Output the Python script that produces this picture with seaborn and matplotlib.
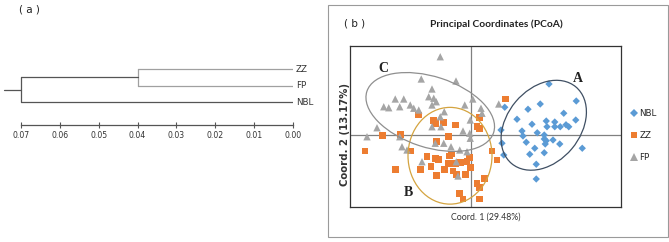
import numpy as np
import pandas as pd
import seaborn as sns
import matplotlib
matplotlib.use("Agg")
import matplotlib.pyplot as plt
from matplotlib.patches import Ellipse, Rectangle

# ---------------- data ----------------
# (a) UPGMA dendrogram
leaf_names = ["NBL", "FP", "ZZ"]          # bottom -> top
merge_zz_fp = 0.04
merge_root = 0.07
dist_ticks = [0.07, 0.06, 0.05, 0.04, 0.03, 0.02, 0.01, 0.00]

# (b) PCoA scores
nbl_x = [0.312, 0.277, 0.421, 0.228, 0.135, 0.371, 0.184, 0.244, 0.301, 0.304, 0.335, 0.335,
         0.357, 0.380, 0.391, 0.419, 0.120, 0.204, 0.208, 0.265, 0.293, 0.293, 0.301, 0.297,
         0.328, 0.221, 0.355, 0.255, 0.293, 0.235, 0.445, 0.131, 0.261, 0.124, 0.261]
nbl_y = [0.204, 0.124, 0.136, 0.103, 0.111, 0.087, 0.063, 0.043, 0.056, 0.033, 0.052, 0.033,
         0.033, 0.041, 0.033, 0.060, 0.020, 0.016, -0.004, 0.009, 0.000, -0.016, -0.023, -0.036,
         -0.020, -0.029, -0.036, -0.053, -0.071, -0.077, -0.053, -0.080, -0.176, -0.033, -0.117]

zz_x = [0.137, -0.209, -0.143, -0.109, -0.149, -0.063, 0.035, 0.024, 0.035, -0.283, -0.353,
        -0.089, -0.139, -0.240, -0.424, -0.176, -0.143, -0.129, -0.085, -0.160, -0.107, -0.089,
        -0.072, -0.059, -0.063, -0.043, -0.007, -0.003, -0.016, -0.303, -0.203, -0.139, -0.023,
        0.084, 0.104, 0.055, 0.024, 0.035, -0.045, -0.032, 0.035, -0.079]
zz_y = [0.144, 0.080, 0.047, 0.051, 0.057, 0.040, 0.069, 0.033, 0.027, 0.003, -0.003,
        -0.007, -0.027, -0.064, -0.064, -0.087, -0.093, -0.097, -0.084, -0.127, -0.137, -0.113,
        -0.144, -0.157, -0.113, -0.111, -0.089, -0.131, -0.107, -0.137, -0.137, -0.163, -0.157,
        -0.064, -0.100, -0.173, -0.193, -0.209, -0.233, -0.256, -0.256, -0.076]

fp_x = [-0.123, -0.199, -0.060, -0.156, -0.169, -0.149, -0.139, -0.156, 0.007, -0.025, 0.040,
        0.044, -0.107, -0.123, -0.003, 0.111, -0.349, -0.329, -0.303, -0.269, -0.285, -0.243,
        -0.229, -0.209, -0.376, -0.416, -0.285, -0.276, -0.256, -0.196, -0.156, -0.120, -0.032,
        -0.005, -0.003, -0.080, -0.045, -0.016, -0.059, -0.052, -0.143, -0.109]
fp_y = [0.313, 0.224, 0.216, 0.184, 0.153, 0.147, 0.133, 0.120, 0.144, 0.120, 0.107,
        0.087, 0.093, 0.073, 0.060, 0.124, 0.113, 0.109, 0.144, 0.144, 0.113, 0.120,
        0.107, 0.100, 0.029, -0.007, -0.007, -0.047, -0.060, -0.107, 0.033, 0.033, 0.016,
        0.007, -0.013, -0.047, -0.060, -0.067, -0.107, -0.164, -0.033, -0.033]

groups = ["NBL", "ZZ", "FP"]
# group ellipses: label, centre x, centre y, width, height, angle
ell_labels = ["A", "B", "C"]
ell_cx = [0.291, -0.084, -0.163]
ell_cy = [0.039, -0.083, 0.092]
ell_w = [0.40, 0.336, 0.533]
ell_h = [0.293, 0.387, 0.283]
ell_ang = [50, 0, -18]
lab_x = [0.428, -0.252, -0.352]
lab_y = [0.224, -0.228, 0.268]

# ---------------- style ----------------
sns.set_theme(style="white")
plt.rcParams["font.family"] = ["DejaVu Sans"]

W, H = 669, 242
fig = plt.figure(figsize=(W / 100, H / 100), dpi=100)

def fx(px):
    return px / W

def fy(py):
    return 1 - py / H

# ---------------- (a) dendrogram ----------------
axa = fig.add_axes([fx(21), fy(125), 272 / W, 65 / H])
axa.set_xlim(merge_root, 0.0)
axa.set_ylim(-0.39, 3.55)
ypos = {n: i + 1 for i, n in enumerate(leaf_names)}
light = "#a0a0a0"
dark = "#555555"
zz_fp_mid = (ypos["ZZ"] + ypos["FP"]) / 2
root_mid = (zz_fp_mid + ypos["NBL"]) / 2
# ZZ / FP clade
for n in ["ZZ", "FP"]:
    axa.plot([merge_zz_fp, 0.0], [ypos[n], ypos[n]], color=light, lw=0.9)
axa.plot([merge_zz_fp, merge_zz_fp], [ypos["FP"], ypos["ZZ"]], color=light, lw=0.9)
# NBL and root
axa.plot([merge_root, 0.0], [ypos["NBL"], ypos["NBL"]], color=dark, lw=0.9)
axa.plot([merge_root, merge_zz_fp], [zz_fp_mid, zz_fp_mid], color=dark, lw=0.9)
axa.plot([merge_root, merge_root], [ypos["NBL"], zz_fp_mid], color=dark, lw=0.9, clip_on=False)
axa.plot([merge_root, merge_root * 1.063], [root_mid, root_mid], color=dark, lw=0.9, clip_on=False)
for n in leaf_names:
    axa.annotate(n, (0.0, ypos[n]), xytext=(3, 0), textcoords="offset pixels",
                 ha="left", va="center", fontsize=6.3, color="#333333",
                 annotation_clip=False)
for s in ["left", "right", "top"]:
    axa.spines[s].set_visible(False)
axa.spines["bottom"].set_color(dark)
axa.spines["bottom"].set_linewidth(0.9)
axa.set_yticks([])
axa.set_xticks(dist_ticks)
axa.set_xticklabels([f"{t:.2f}" for t in dist_ticks])
axa.tick_params(axis="x", direction="inout", length=5, width=0.8, color=dark,
                labelsize=5.6, labelcolor="#333333", pad=1.5, bottom=True)
fig.text(fx(29), fy(9), "( a )", ha="center", va="center", fontsize=7.5, color="#222222")

# ---------------- (b) PCoA ----------------
fig.patches.append(Rectangle((fx(328), fy(237)), 340 / W, 232 / H, transform=fig.transFigure,
                             fill=False, edgecolor="#9a9a9a", lw=0.8))

df = pd.DataFrame({
    "x": nbl_x + zz_x + fp_x,
    "y": nbl_y + zz_y + fp_y,
    "group": ["NBL"] * len(nbl_x) + ["ZZ"] * len(zz_x) + ["FP"] * len(fp_x),
})

axb = fig.add_axes([fx(350), fy(207), 271 / W, 161 / H])
palette = {"NBL": "#5b9bd5", "ZZ": "#ed7d31", "FP": "#a5a5a5"}
markers = {"NBL": "D", "ZZ": "s", "FP": "^"}
sizes = {"NBL": 14, "ZZ": 24, "FP": 28}
sns.scatterplot(data=df, x="x", y="y", hue="group", style="group", size="group",
                hue_order=groups, style_order=groups, size_order=groups,
                palette=palette, markers=markers, sizes=sizes,
                edgecolor="none", linewidth=0, ax=axb, zorder=3)
axb.set_xlim(-0.484, 0.600)
axb.set_ylim(-0.288, 0.356)
axb.axvline(0, color="#808080", lw=0.9, zorder=1)
axb.axhline(0, color="#808080", lw=0.9, zorder=1)
axb.set_xticks([])
axb.set_yticks([])
axb.set_xlabel("")
axb.set_ylabel("")
for s in axb.spines.values():
    s.set_color("#333333")
    s.set_linewidth(0.9)

ell_colors = ["#3f4f63", "#d4a440", "#8f8f8f"]
for i in range(3):
    axb.add_patch(Ellipse((ell_cx[i], ell_cy[i]), ell_w[i], ell_h[i], angle=ell_ang[i],
                          fill=False, edgecolor=ell_colors[i], lw=0.9, zorder=4))
    axb.text(lab_x[i], lab_y[i], ell_labels[i], family="Liberation Serif", weight="bold",
             fontsize=10, ha="center", va="center", color="#222222", zorder=5)

handles, labels = axb.get_legend_handles_labels()
axb.legend(handles, labels, loc="upper left", bbox_to_anchor=(fx(630), fy(109)),
           bbox_transform=fig.transFigure, frameon=False, fontsize=6.3,
           handlelength=0.8, handletextpad=0.3, labelspacing=1.5, borderaxespad=0,
           borderpad=0)

fig.text(fx(496), fy(24), "Principal Coordinates (PCoA)", ha="center", va="center",
         fontsize=7.4, weight="bold", family=["Liberation Sans Narrow", "Lato"], color="#222222")
fig.text(fx(355), fy(24), "( b )", ha="center", va="center", fontsize=7.5, color="#222222")
fig.text(fx(486), fy(217), "Coord. 1 (29.48%)", ha="center", va="center", fontsize=6.3,
         family=["Liberation Sans Narrow", "Lato"], color="#333333")
fig.text(fx(345), fy(135), "Coord. 2 (13.17%)", ha="center", va="center", fontsize=7.3,
         rotation=90, weight="bold", color="#333333")

fig.savefig("out.png", dpi=100)
